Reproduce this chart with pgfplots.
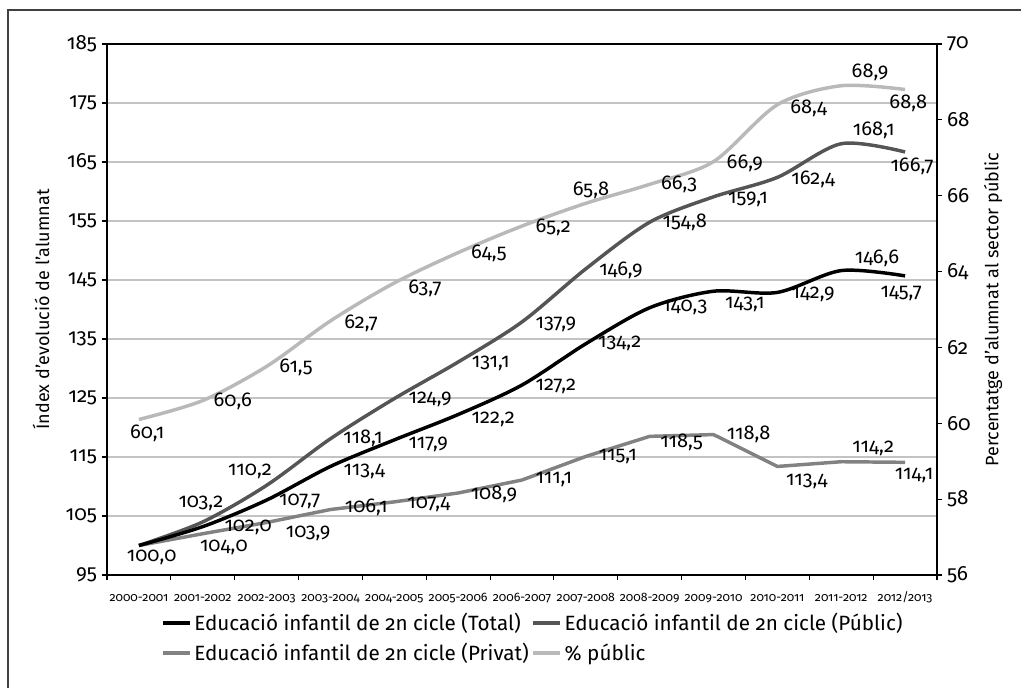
\documentclass[border=0pt]{standalone}
\usepackage{fontspec}
\setmainfont{Fira Sans}[Numbers=OldStyle]
\usepackage{pgfplots}
\usepackage{pgfplotstable}
\pgfplotsset{compat=1.18}

\definecolor{cTotal}{RGB}{0,0,0}
\definecolor{cPub}{RGB}{85,85,85}
\definecolor{cPriv}{RGB}{130,130,130}
\definecolor{cPct}{RGB}{185,185,185}
\definecolor{cGrid}{RGB}{195,195,195}

% index series (left axis)
\pgfplotstableread{
x y
0 100.0
1 103.2
2 107.7
3 113.4
4 117.9
5 122.2
6 127.2
7 134.2
8 140.3
9 143.1
10 142.9
11 146.6
12 145.7
}\total
\pgfplotstableread{
x y
0 100.0
1 104.0
2 110.2
3 118.1
4 124.9
5 131.1
6 137.9
7 146.9
8 154.8
9 159.1
10 162.4
11 168.1
12 166.7
}\publ
\pgfplotstableread{
x y
0 100.0
1 102.0
2 103.9
3 106.1
4 107.4
5 108.9
6 111.1
7 115.1
8 118.5
9 118.8
10 113.4
11 114.2
12 114.1
}\priv
% share of public sector (right axis)
\pgfplotstableread{
x y
0 60.1
1 60.6
2 61.5
3 62.7
4 63.7
5 64.5
6 65.2
7 65.8
8 66.3
9 66.9
10 68.4
11 68.9
12 68.8
}\pct

% label positions
\pgfplotstableread{
lx ly t
0.20 97.9 100,0
1.33 99.7 104,0
2.52 107.5 107,7
3.53 112.5 113,4
4.53 117.2 117,9
5.55 121.4 122,2
6.53 127.0 127,2
7.53 134.2 134,2
8.55 140.4 140,3
9.49 140.9 143,1
10.56 142.6 142,9
11.56 148.7 146,6
11.94 142.8 145,7
}\lblTotal
\pgfplotstableread{
lx ly t
0.97 107.2 103,2
1.74 112.6 110,2
3.51 118.2 118,1
4.56 124.7 124,9
5.51 130.9 131,1
6.53 137.5 137,9
7.55 146.7 146,9
8.55 154.8 154,8
9.54 158.6 159,1
10.56 162.1 162,4
11.51 170.3 168,1
12.11 164.2 166,7
}\lblPubl
\pgfplotstableread{
lx ly t
1.71 103.1 102,0
2.65 102.1 103,9
3.56 106.4 106,1
4.54 107.0 107,4
5.56 108.7 108,9
6.50 111.1 111,1
7.50 115.0 115,1
8.50 117.4 118,5
9.55 118.9 118,8
10.46 110.9 113,4
11.50 116.5 114,2
12.14 111.8 114,1
}\lblPriv
\pgfplotstableread{
lx ly t
0.13 59.74 60,1
1.47 60.59 60,6
2.46 61.48 61,5
3.48 62.64 62,7
4.48 63.57 63,7
5.48 64.49 64,5
6.49 65.17 65,2
7.08 66.15 65,8
8.46 66.31 66,3
9.49 66.84 66,9
10.49 68.31 68,4
11.45 69.26 68,9
12.05 68.44 68,8
}\lblPct

\pgfplotsset{
  lbl/.style={draw=none, mark=none, forget plot,
    nodes near coords, point meta=explicit symbolic,
    every node near coord/.append style={anchor=center, inner sep=0pt,
      text=black, font=\fontsize{15}{17}\selectfont}},
  base/.style={
    at={(80.25pt,84pt)}, anchor=south west,
    scale only axis, width=622.5pt, height=398.25pt,
    xmin=-0.5, xmax=12.5, clip=false,
    tick align=outside,
    major tick length=4pt, minor tick length=4pt,
    every tick/.style={black, line width=0.8pt},
    axis line style={black, line width=1.1pt},
    /pgf/number format/assume math mode=true,
    yticklabel style={font=\fontsize{15.5}{17}\selectfont},
  },
}

\begin{document}
\begin{tikzpicture}
\begin{scope}[x=0.75pt,y=0.75pt]
\useasboundingbox (0,0) rectangle (1021,687);
\draw[black!75, line width=0.8pt] (8,-5) -- (8,677) -- (1030,677);
\end{scope}

\begin{axis}[base,
  ymin=95, ymax=185, ytick={95,105,...,185},
  xtick={0,...,12},
  xticklabels={2000-2001,2001-2002,2002-2003,2003-2004,2004-2005,2005-2006,2006-2007,2007-2008,2008-2009,2009-2010,2010-2011,2011-2012,2012/2013},
  minor xtick={-0.5,0.5,...,12.5},
  major x tick style={draw=none},
  xtick pos=bottom, ytick pos=left,
  xticklabel style={font=\fontsize{9.2}{11}\selectfont, inner sep=0pt,
    text height=6.5pt, text depth=2pt, yshift=-9pt},
  ymajorgrids, grid style={cGrid, line width=0.9pt},
  ylabel={Índex d'evolució de l'alumnat},
  ylabel style={at={(axis description cs:-0.0795,0.5)}, anchor=center,
    font=\fontsize{13.5}{16}\selectfont},
  legend columns=2, legend cell align=left,
  legend style={at={(axis description cs:0.06,-0.061)}, anchor=north west,
    draw=none, fill=none, font=\fontsize{15.5}{17}\selectfont,
    nodes={inner ysep=2pt}, row sep=4pt,
    /tikz/every even column/.append style={column sep=0pt}},
  legend image code/.code={\draw[#1] (0pt,0pt) -- (20pt,0pt);},
]
\addlegendimage{cTotal, line width=3pt}
\addlegendentry{Educació infantil de 2n cicle (Total)}
\addlegendimage{cPub, line width=3pt}
\addlegendentry{Educació infantil de 2n cicle (Públic)}
\addlegendimage{cPriv, line width=3pt}
\addlegendentry{Educació infantil de 2n cicle (Privat)}
\addlegendimage{cPct, line width=3pt}
\addlegendentry{\% públic}

\addplot[cPriv, line width=2.6pt, forget plot] table[x=x,y=y] {\priv};
\addplot[cPub, line width=2.6pt, smooth, forget plot] table[x=x,y=y] {\publ};
\addplot[cTotal, line width=2.6pt, smooth, forget plot] table[x=x,y=y] {\total};

\addplot[lbl] table[x=lx,y=ly,meta=t] {\lblPriv};
\addplot[lbl] table[x=lx,y=ly,meta=t] {\lblPubl};
\addplot[lbl] table[x=lx,y=ly,meta=t] {\lblTotal};
\end{axis}

\begin{axis}[base,
  ymin=56, ymax=70, ytick={56,58,...,70},
  axis y line*=right, axis x line=none,
  ylabel={Percentatge d'alumnat al sector públic},
  ylabel style={at={(axis description cs:1.0675,0.5)}, anchor=center,
    font=\fontsize{13.5}{16}\selectfont},
]
\addplot[cPct, line width=2.6pt, smooth] table[x=x,y=y] {\pct};
\addplot[lbl] table[x=lx,y=ly,meta=t] {\lblPct};
\end{axis}
\end{tikzpicture}
\end{document}
